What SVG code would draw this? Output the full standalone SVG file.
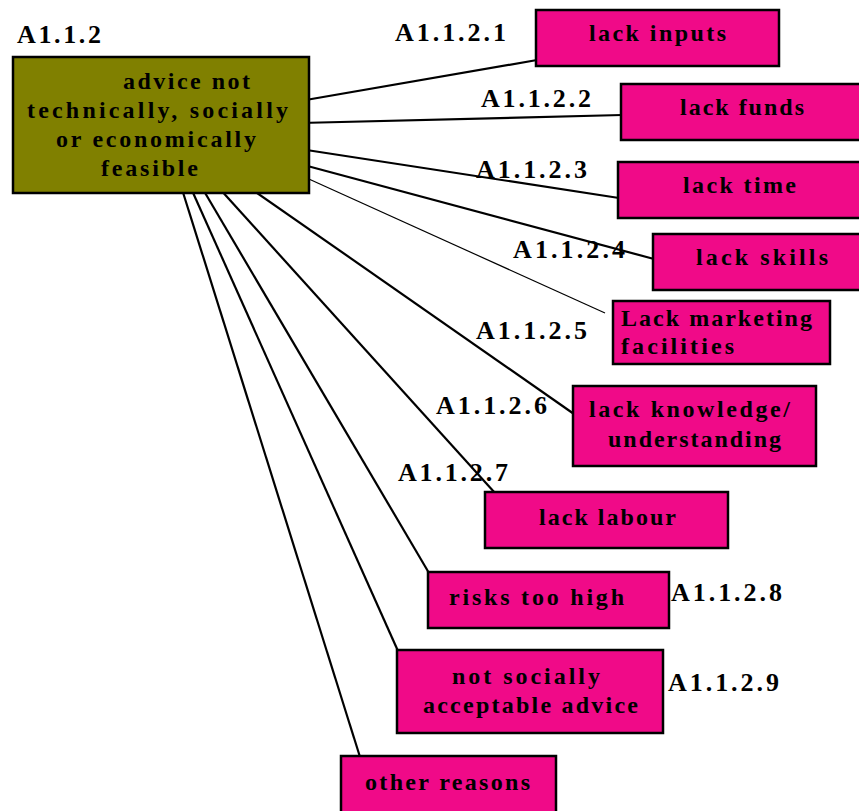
<svg xmlns="http://www.w3.org/2000/svg" width="859" height="811" viewBox="0 0 859 811">
<style>
text{font-family:"Liberation Serif","Times New Roman",serif;font-weight:bold;fill:#000}
.lbl{font-size:26px}
.t{font-size:24px}
.box{fill:#f00a88;stroke:#000;stroke-width:2.5}
.main{fill:#808000;stroke:#000;stroke-width:2.5}
.c{stroke:#000;stroke-width:2.2;fill:none}
.thin{stroke-width:1.2}
</style>
<rect width="859" height="811" fill="#fff"/>
<g id="connectors">
<line class="c" x1="300" y1="101" x2="537" y2="60"/>
<line class="c" x1="300" y1="123" x2="622" y2="115"/>
<line class="c" x1="300" y1="149" x2="619" y2="198"/>
<line class="c" x1="300" y1="164" x2="654" y2="259"/>
<line class="c thin" x1="300" y1="175" x2="605" y2="313"/>
<line class="c" x1="250" y1="188" x2="574" y2="414"/>
<line class="c" x1="219" y1="188" x2="495" y2="493"/>
<line class="c" x1="201" y1="186" x2="429" y2="573"/>
<line class="c" x1="190" y1="186" x2="398" y2="651"/>
<line class="c" x1="181" y1="186" x2="360" y2="757"/>
</g>
<g id="n0">
<rect class="main" x="13" y="57" width="296" height="136"/>
<text class="t" x="123" y="89" textLength="127" lengthAdjust="spacing">advice not</text>
<text class="t" x="27" y="118" textLength="261" lengthAdjust="spacing">technically, socially</text>
<text class="t" x="56" y="147" textLength="200" lengthAdjust="spacing">or economically</text>
<text class="t" x="101" y="176" textLength="97" lengthAdjust="spacing">feasible</text>
<text class="lbl" x="17" y="43" textLength="84" lengthAdjust="spacing">A1.1.2</text>
</g>
<g id="n1">
<rect class="box" x="536" y="10" width="243" height="56"/>
<text class="t" x="589" y="41" textLength="137" lengthAdjust="spacing">lack inputs</text>
<text class="lbl" x="395" y="41" textLength="111" lengthAdjust="spacing">A1.1.2.1</text>
</g>
<g id="n2">
<rect class="box" x="621" y="84" width="245" height="56"/>
<text class="t" x="680" y="115" textLength="124" lengthAdjust="spacing">lack funds</text>
<text class="lbl" x="481" y="107" textLength="110" lengthAdjust="spacing">A1.1.2.2</text>
</g>
<g id="n3">
<rect class="box" x="618" y="162" width="245" height="56"/>
<text class="t" x="683" y="193" textLength="113" lengthAdjust="spacing">lack time</text>
<text class="lbl" x="476" y="178" textLength="111" lengthAdjust="spacing">A1.1.2.3</text>
</g>
<g id="n4">
<rect class="box" x="653" y="234" width="220" height="56"/>
<text class="t" x="696" y="265" textLength="132" lengthAdjust="spacing">lack skills</text>
<text class="lbl" x="513" y="258" textLength="112" lengthAdjust="spacing">A1.1.2.4</text>
</g>
<g id="n5">
<rect class="box" x="613" y="301" width="217" height="63"/>
<text class="t" x="621" y="326" textLength="191" lengthAdjust="spacing">Lack marketing</text>
<text class="t" x="621" y="354" textLength="113" lengthAdjust="spacing">facilities</text>
<text class="lbl" x="476" y="339" textLength="111" lengthAdjust="spacing">A1.1.2.5</text>
</g>
<g id="n6">
<rect class="box" x="573" y="386" width="243" height="80"/>
<text class="t" x="589" y="417" textLength="201" lengthAdjust="spacing">lack knowledge/</text>
<text class="t" x="608" y="447" textLength="173" lengthAdjust="spacing">understanding</text>
<text class="lbl" x="436" y="414" textLength="111" lengthAdjust="spacing">A1.1.2.6</text>
</g>
<g id="n7">
<rect class="box" x="485" y="492" width="243" height="56"/>
<text class="t" x="539" y="525" textLength="137" lengthAdjust="spacing">lack labour</text>
<text class="lbl" x="398" y="481" textLength="110" lengthAdjust="spacing">A1.1.2.7</text>
</g>
<g id="n8">
<rect class="box" x="428" y="572" width="241" height="56"/>
<text class="t" x="449" y="605" textLength="175" lengthAdjust="spacing">risks too high</text>
<text class="lbl" x="671" y="601" textLength="111" lengthAdjust="spacing">A1.1.2.8</text>
</g>
<g id="n9">
<rect class="box" x="397" y="650" width="266" height="83"/>
<text class="t" x="452" y="684" textLength="148" lengthAdjust="spacing">not socially</text>
<text class="t" x="423" y="713" textLength="215" lengthAdjust="spacing">acceptable advice</text>
<text class="lbl" x="668" y="691" textLength="111" lengthAdjust="spacing">A1.1.2.9</text>
</g>
<g id="n10">
<rect class="box" x="341" y="756" width="215" height="70"/>
<text class="t" x="365" y="790" textLength="165" lengthAdjust="spacing">other reasons</text>
</g>
</svg>
